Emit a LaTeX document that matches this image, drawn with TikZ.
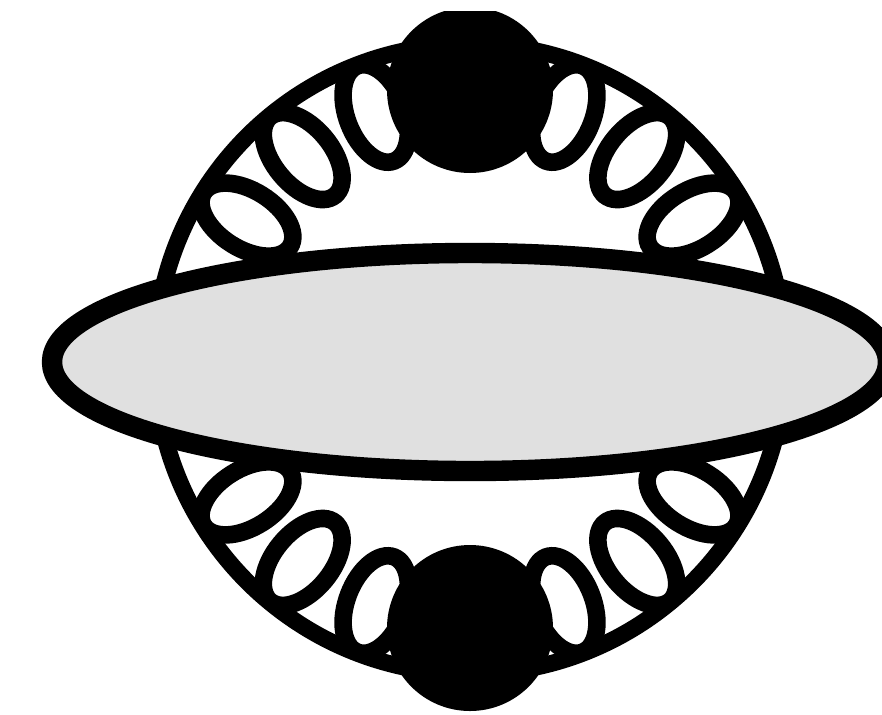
\documentclass[tikz,border=0pt]{standalone}
\begin{document}
\begin{tikzpicture}[
      x=0.01cm, y=0.01cm,
      fermion/.style={line width=4.8pt},
      coilloop/.style={line width=5pt},
      blob/.style={fill=black},
      softpart/.style={line width=5.8pt, fill=black!12}
    ]
    \useasboundingbox (0,0) rectangle (882,714);
    \clip (0,0) rectangle (882,703);
    \coordinate (c) at (470,355);
    \draw[fermion] (c) circle (315);
    % gluon loops along the ring
    \begin{scope}[shift={(c)}]
      \foreach \a in {148,129.5,111,69,50.5,32,212,230.5,249,291,309.5,328}
        \draw[coilloop, rotate=\a] (263,0) ellipse [x radius=51, y radius=29];
    \end{scope}
    \fill[blob] (470,624) circle (83);
    \fill[blob] (470,86) circle (83);
    \draw[softpart] (470,352) ellipse [x radius=418, y radius=109];
  \end{tikzpicture}
\end{document}
